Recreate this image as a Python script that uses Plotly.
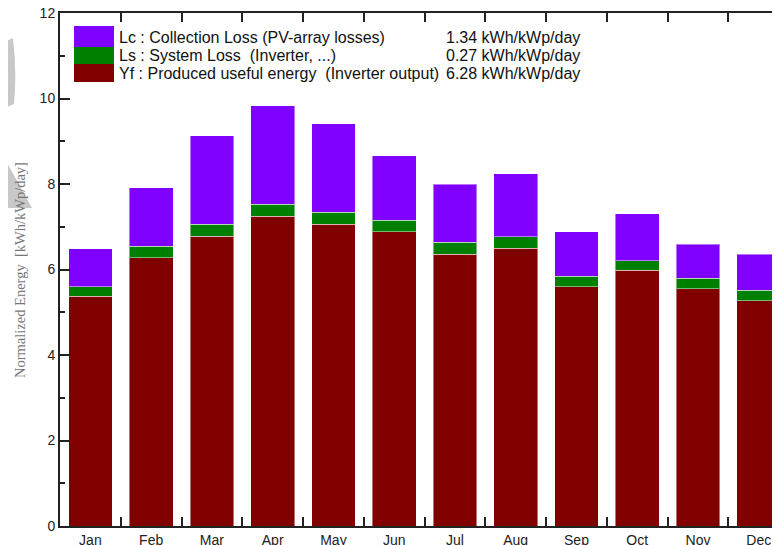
import plotly.graph_objects as go

# ---- data ----
months = ["Jan", "Feb", "Mar", "Apr", "May", "Jun", "Jul", "Aug", "Sep", "Oct", "Nov", "Dec"]
yf = [5.38, 6.27, 6.78, 7.25, 7.06, 6.88, 6.36, 6.50, 5.60, 5.98, 5.55, 5.27]   # produced useful energy
ls = [0.22, 0.27, 0.28, 0.28, 0.28, 0.27, 0.28, 0.27, 0.24, 0.23, 0.25, 0.24]   # system loss
lc = [0.89, 1.37, 2.07, 2.30, 2.07, 1.51, 1.36, 1.47, 1.04, 1.09, 0.79, 0.85]   # collection loss

legend_labels = [
    "Lc : Collection Loss (PV-array losses)",
    "Ls : System Loss  (Inverter, ...)",
    "Yf : Produced useful energy  (Inverter output)",
]
legend_values = ["1.34 kWh/kWp/day", "0.27 kWh/kWp/day", "6.28 kWh/kWp/day"]
y_ticks = [0, 2, 4, 6, 8, 10, 12]

C_LC = "#8000FF"
C_LS = "#008000"
C_YF = "#800000"

OFF = 8                      # page body margin of the html page
W, H = 780 - OFF, 545 - OFF  # figure size so it ends at the window edge
ML, MR, MT, MB = 60 - OFF, 0, 13 - OFF, 545 - 526
PW, PH = W - ML - MR, H - MT - MB


def px(x):
    """screen pixel x -> paper coordinate"""
    return (x - OFF - ML) / PW


def py(y):
    """screen pixel y -> paper coordinate"""
    return (H - MB - (y - OFF)) / PH


edge = dict(color="rgba(255,255,255,0.45)", width=1)
fig = go.Figure()
fig.add_trace(go.Bar(x=months, y=yf, marker=dict(color=C_YF, line=edge), name="Yf"))
fig.add_trace(go.Bar(x=months, y=ls, marker=dict(color=C_LS, line=edge), name="Ls"))
fig.add_trace(go.Bar(x=months, y=lc, marker=dict(color=C_LC, line=edge), name="Lc"))

font_ax = dict(family="Liberation Sans, Arial, sans-serif", size=14, color="#222")

fig.update_layout(
    width=W, height=H,
    margin=dict(l=ML, r=MR, t=MT, b=MB, autoexpand=False),
    barmode="stack", bargap=0.28,
    plot_bgcolor="white", paper_bgcolor="white",
    showlegend=False,
    font=font_ax,
    xaxis=dict(
        type="category", range=[-0.5, 11.35], tickson="boundaries",
        ticks="inside", ticklen=9, tickwidth=1.5, tickcolor="#222",
        showline=True, linewidth=2, linecolor="#222", mirror="ticks",
        showgrid=False, tickfont=font_ax, automargin=False,
        ticklabeloverflow="allow",
    ),
    yaxis=dict(
        range=[0, 12], tickvals=y_ticks, ticks="inside", ticklen=10,
        tickwidth=1.5, tickcolor="#222",
        minor=dict(ticks="inside", ticklen=5, dtick=1, tickcolor="#222", tickwidth=1.5),
        showline=True, linewidth=2, linecolor="#222", showgrid=False,
        zeroline=False, tickfont=font_ax, automargin=False,
        ticklabeloverflow="allow",
    ),
)

shapes = []
# watermark fragments (decoration)
shapes.append(dict(type="path", xref="paper", yref="paper", layer="below",
                   path=f"M {px(0)},{py(44)} L {px(13)},{py(38)} Q {px(17)},{py(72)} {px(14)},{py(104)} L {px(0)},{py(110)} Z",
                   fillcolor="#c8c8c8", line=dict(width=0)))
shapes.append(dict(type="path", xref="paper", yref="paper", layer="below",
                   path=f"M {px(0)},{py(150)} L {px(32)},{py(208)} L {px(0)},{py(208)} Z",
                   fillcolor="#c8c8c8", line=dict(width=0)))
# legend swatches
sw = [(26, 47, C_LC), (47, 64, C_LS), (64, 82, C_YF)]
for y0, y1, c in sw:
    shapes.append(dict(type="rect", xref="paper", yref="paper",
                       x0=px(74), x1=px(114), y0=py(y1), y1=py(y0),
                       fillcolor=c, line=dict(width=0)))
fig.update_layout(shapes=shapes)

ann = []
rows = [37.5, 55.5, 73]
font_leg = dict(family="Liberation Sans, Arial, sans-serif", size=16, color="#111")
for lab, val, yy in zip(legend_labels, legend_values, rows):
    ann.append(dict(text=lab, xref="paper", yref="paper", x=px(117), y=py(yy),
                    xanchor="left", yanchor="middle", showarrow=False, font=font_leg))
    ann.append(dict(text=val, xref="paper", yref="paper", x=px(582), y=py(yy),
                    xanchor="right", yanchor="middle", showarrow=False, font=font_leg))
ann.append(dict(text="Normalized Energy  [kWh/kWp/day]", xref="paper", yref="paper",
                x=px(20), y=py(270), textangle=-90, xanchor="center", yanchor="middle",
                showarrow=False,
                font=dict(family="Liberation Serif, Times New Roman, serif", size=14.5, color="#777")))
fig.update_layout(annotations=ann)

fig.write_html("out.html")
